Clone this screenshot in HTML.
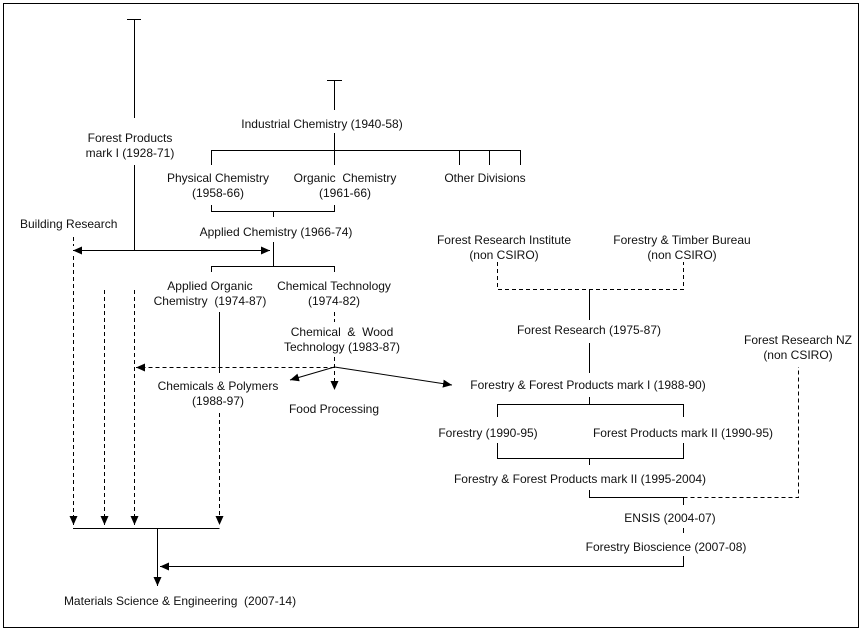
<!DOCTYPE html>
<html><head><meta charset="utf-8"><style>
html,body{margin:0;padding:0;background:#fff;}
svg{display:block;}
text{font-family:"Liberation Sans",Arial,sans-serif;font-size:12px;fill:#111;white-space:pre;}
</style></head><body>
<svg width="862" height="631" viewBox="0 0 862 631" xmlns="http://www.w3.org/2000/svg" xml:space="preserve">
<defs>
<marker id="a" markerWidth="10" markerHeight="10" refX="9" refY="4" orient="auto" markerUnits="userSpaceOnUse">
<path d="M0,0 L9,4 L0,8 z" fill="#000"/></marker>
</defs>
<rect x="3.5" y="3.5" width="855" height="624" fill="none" stroke="#000"/>
<g stroke="#000" stroke-width="1" fill="none">
<path d="M127,19.5H141M134.5,19V118M134.5,165V250"/>
<path d="M327,80.5H342M334.5,80V110M334.5,133V165M211,150.5H520M211.5,150V165M459.5,150V165M489.5,150V165M520.5,150V165"/>
<path d="M211.5,205V211.5H334.5V205M273.5,211V217"/>
<path d="M273.5,242V266M211.5,272V266.5H334.5V272"/>
<path d="M134,250.5H270" marker-end="url(#a)"/>
<path d="M134,250.5H73" marker-end="url(#a)"/>
<path d="M219.5,312V373"/>
<path d="M334.5,367L290,380" marker-end="url(#a)"/>
<path d="M334.5,367L452,385" marker-end="url(#a)"/>
<path d="M73,528.5H219.5"/>
<path d="M157.5,528V586" marker-end="url(#a)"/>
<path d="M683.5,556V566.5H160" marker-end="url(#a)"/>
<path d="M589.5,289V320M589.5,343V373M589.5,397V404M497.5,417V404.5H683.5V417M497.5,443V458.5H683.5V443M589.5,458V465M589.5,490V497.5H683.5M683.5,497V505M683.5,528V533"/>
</g>
<g stroke="#000" stroke-width="1" fill="none" stroke-dasharray="4,3">
<path d="M73.5,256V525" marker-end="url(#a)"/>
<path d="M73.5,237V246"/>
<path d="M104.5,290V525" marker-end="url(#a)"/>
<path d="M134.5,290V525" marker-end="url(#a)"/>
<path d="M219.5,413V525" marker-end="url(#a)"/>
<path d="M334.5,312V322M334.5,357V390" marker-end="url(#a)"/>
<path d="M334.5,367.5H136" marker-end="url(#a)"/>
<path d="M497.5,262V289.5H683.5V262"/>
<path d="M683.5,497.5H798.5V367"/>
</g>
<g text-anchor="middle">
<text x="130" y="142">Forest Products</text>
<text x="130" y="157">mark I (1928-71)</text>
<text x="322" y="128">Industrial Chemistry (1940-58)</text>
<text x="218" y="182">Physical Chemistry</text>
<text x="218" y="197">(1958-66)</text>
<text x="345" y="182">Organic  Chemistry</text>
<text x="345" y="197">(1961-66)</text>
<text x="485" y="182">Other Divisions</text>
<text x="276" y="236">Applied Chemistry (1966-74)</text>
<text x="210" y="290">Applied Organic</text>
<text x="210" y="305">Chemistry  (1974-87)</text>
<text x="334" y="290">Chemical Technology</text>
<text x="334" y="305">(1974-82)</text>
<text x="342" y="336">Chemical  &amp;  Wood</text>
<text x="342" y="351">Technology (1983-87)</text>
<text x="218" y="390">Chemicals &amp; Polymers</text>
<text x="218" y="405">(1988-97)</text>
<text x="334" y="413">Food Processing</text>
<text x="180" y="605">Materials Science &amp; Engineering  (2007-14)</text>
<text x="504" y="244">Forest Research Institute</text>
<text x="504" y="259">(non CSIRO)</text>
<text x="682" y="244">Forestry &amp; Timber Bureau</text>
<text x="682" y="259">(non CSIRO)</text>
<text x="589" y="334">Forest Research (1975-87)</text>
<text x="798" y="344">Forest Research NZ</text>
<text x="798" y="359">(non CSIRO)</text>
<text x="588" y="389">Forestry &amp; Forest Products mark I (1988-90)</text>
<text x="488" y="437">Forestry (1990-95)</text>
<text x="683" y="437">Forest Products mark II (1990-95)</text>
<text x="580" y="483">Forestry &amp; Forest Products mark II (1995-2004)</text>
<text x="670" y="522">ENSIS (2004-07)</text>
<text x="666" y="551">Forestry Bioscience (2007-08)</text>
</g>
<text x="20" y="228">Building Research</text>
</svg>
</body></html>
